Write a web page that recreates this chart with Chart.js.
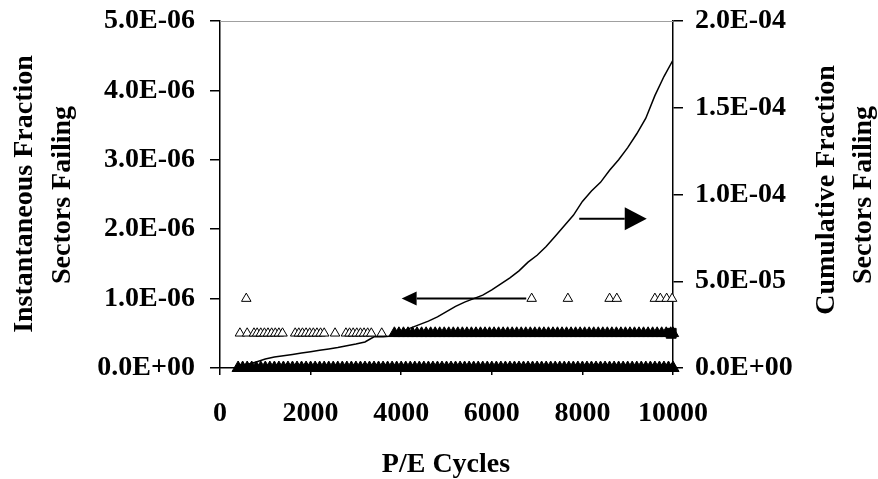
<!DOCTYPE html>
<html>
<head>
<meta charset="utf-8">
<script src="https://cdn.jsdelivr.net/npm/chart.js@4"></script>
<style>
  html, body { margin: 0; padding: 0; background: #fff; }
  #wrap { width: 878px; height: 479px; }
</style>
</head>
<body>
<div id="wrap"><canvas id="failChart" width="878" height="479"></canvas></div>
<script>
// instantaneous fraction, row at 0
var zeroRowX = [400, 500, 600, 700, 800, 900, 1000, 1100, 1200, 1300, 1400, 1500, 1600, 1700, 1800, 1900,
  2000, 2100, 2200, 2300, 2400, 2500, 2600, 2700, 2800, 2900, 3000, 3100, 3200, 3300, 3400, 3500,
  3600, 3700, 3800, 3900, 4000, 4100, 4200, 4300, 4400, 4500, 4600, 4700, 4800, 4900, 5000, 5100,
  5200, 5300, 5400, 5500, 5600, 5700, 5800, 5900, 6000, 6100, 6200, 6300, 6400, 6500, 6600, 6700,
  6800, 6900, 7000, 7100, 7200, 7300, 7400, 7500, 7600, 7700, 7800, 7900, 8000, 8100, 8200, 8300,
  8400, 8500, 8600, 8700, 8800, 8900, 9000, 9100, 9200, 9300, 9400, 9500, 9600, 9700, 9800, 9900, 10000];
// row at 5.0E-07, sparse part
var halfSparseX = [440, 600, 750, 820, 900, 980, 1060, 1140, 1220, 1300, 1380,
  1660, 1740, 1820, 1900, 1980, 2060, 2140, 2220, 2300, 2540,
  2780, 2860, 2940, 3020, 3100, 3180, 3260, 3340, 3570];
// row at 5.0E-07, dense part
var halfDenseX = [3850, 3950, 4050, 4150, 4250, 4350, 4450, 4550, 4650, 4750, 4850, 4950, 5050, 5150,
  5250, 5350, 5450, 5550, 5650, 5750, 5850, 5950, 6050, 6150, 6250, 6350, 6450, 6550, 6650, 6750,
  6850, 6950, 7050, 7150, 7250, 7350, 7450, 7550, 7650, 7750, 7850, 7950, 8050, 8150, 8250, 8350,
  8450, 8550, 8650, 8750, 8850, 8950, 9050, 9150, 9250, 9350, 9450, 9550, 9650, 9750, 9850, 9950, 10000];
// row at 1.0E-06
var fullRowX = [580, 6880, 7680, 8600, 8760, 9600, 9720, 9860, 9980];
var endBlockX = [9960];

// cumulative fraction (right axis)
var cumX = [400, 600, 800, 1000, 1200, 1400, 1600, 1800, 2000, 2200, 2400, 2600, 2800, 3000, 3200, 3400,
  3600, 3800, 4000, 4200, 4400, 4600, 4800, 5000, 5200, 5400, 5600, 5800, 6000, 6200, 6400, 6600,
  6800, 7000, 7200, 7400, 7600, 7800, 8000, 8200, 8400, 8600, 8800, 9000, 9200, 9400, 9600, 9800, 10000];
var cumY = [1.7e-6, 2.0e-6, 3.5e-6, 5.2e-6, 6.3e-6, 7.0e-6, 7.8e-6, 8.6e-6, 9.4e-6, 1.02e-5, 1.1e-5, 1.18e-5,
  1.28e-5, 1.38e-5, 1.5e-5, 1.8e-5, 1.8e-5, 1.85e-5, 2.1e-5, 2.3e-5, 2.5e-5, 2.7e-5, 2.95e-5, 3.25e-5,
  3.55e-5, 3.8e-5, 4.0e-5, 4.2e-5, 4.5e-5, 4.85e-5, 5.2e-5, 5.6e-5, 6.1e-5, 6.5e-5, 7.0e-5, 7.6e-5,
  8.2e-5, 8.8e-5, 9.6e-5, 1.02e-4, 1.07e-4, 1.14e-4, 1.2e-4, 1.27e-4, 1.35e-4, 1.44e-4, 1.57e-4, 1.68e-4, 1.775e-4];

var xTicks = [0, 2000, 4000, 6000, 8000, 10000];
var leftTicks = [0, 1e-6, 2e-6, 3e-6, 4e-6, 5e-6];
var rightTicks = [0, 5e-5, 1e-4, 1.5e-4, 2e-4];

// arrows pointing to the axis each series belongs to
var arrowLeft = { from: 6760, to: 4010, at: 1e-6, axis: 'y', head: 15, half: 7 };
var arrowRight = { from: 7930, to: 9420, at: 8.6e-5, axis: 'y1', head: 22, half: 11.5 };

var FONT = '"Liberation Serif", "Times New Roman", serif';

function sci(v) {
  if (Math.abs(v) < 1e-20) return '0.0E+00';
  var parts = v.toExponential(1).split('e');
  var e = parseInt(parts[1], 10);
  var d = Math.abs(e);
  return parts[0] + 'E' + (e < 0 ? '-' : '+') + (d < 10 ? '0' + d : d);
}

function pts(xs, y) {
  return xs.map(function(x) { return { x: x, y: y }; });
}

var extras = {
  id: 'extras',
  beforeDatasetsDraw: function(chart) {
    var ctx = chart.ctx, a = chart.chartArea;
    ctx.save();
    ctx.strokeStyle = '#a0a0a0';
    ctx.lineWidth = 1;
    ctx.beginPath();
    ctx.moveTo(a.left, a.top + 0.5);
    ctx.lineTo(a.right, a.top + 0.5);
    ctx.stroke();
    ctx.restore();
  },
  afterDatasetsDraw: function(chart) {
    var ctx = chart.ctx;
    [arrowLeft, arrowRight].forEach(function(ar) {
      var x0 = chart.scales.x.getPixelForValue(ar.from);
      var x1 = chart.scales.x.getPixelForValue(ar.to);
      var y = chart.scales[ar.axis].getPixelForValue(ar.at);
      var dir = x1 > x0 ? 1 : -1;
      ctx.save();
      ctx.strokeStyle = '#000';
      ctx.fillStyle = '#000';
      ctx.lineWidth = 2;
      ctx.beginPath();
      ctx.moveTo(x0, y);
      ctx.lineTo(x1 - dir * ar.head, y);
      ctx.stroke();
      ctx.beginPath();
      ctx.moveTo(x1, y);
      ctx.lineTo(x1 - dir * ar.head, y - ar.half);
      ctx.lineTo(x1 - dir * ar.head, y + ar.half);
      ctx.closePath();
      ctx.fill();
      ctx.restore();
    });
  },
  afterDraw: function(chart) {
    var ctx = chart.ctx;
    ctx.save();
    ctx.fillStyle = '#000';
    ctx.font = 'bold 28px ' + FONT;
    ctx.textAlign = 'center';
    ctx.textBaseline = 'middle';
    function vtext(t, x, y) {
      ctx.save();
      ctx.translate(x, y);
      ctx.rotate(-Math.PI / 2);
      ctx.fillText(t, 0, 0);
      ctx.restore();
    }
    vtext('Instantaneous Fraction', 25, 194);
    vtext('Sectors Failing', 63, 195);
    vtext('Cumulative Fraction', 827, 190);
    vtext('Sectors Failing', 864, 195);
    ctx.fillText('P/E Cycles', 446, 465);
    ctx.restore();
  }
};

function fitY(w) {
  return function(s) {
    s.width = w;
    s.paddingTop = 0;
    s.paddingBottom = 0;
  };
}

document.addEventListener('DOMContentLoaded', function() {
  var ctx = document.getElementById('failChart').getContext('2d');
  var tri = {
    pointStyle: 'triangle',
    borderColor: '#000',
    borderWidth: 1,
    showLine: false,
    clip: false,
    yAxisID: 'y'
  };
  new Chart(ctx, {
    type: 'scatter',
    data: {
      datasets: [
        {
          label: 'Cumulative',
          data: cumX.map(function(x, i) { return { x: x, y: cumY[i] }; }),
          showLine: true,
          borderColor: '#000',
          borderWidth: 1.5,
          pointRadius: 0,
          tension: 0,
          fill: false,
          yAxisID: 'y1'
        },
        Object.assign({ data: pts(fullRowX, 1e-6), backgroundColor: '#fff', pointRadius: 5.5 }, tri),
        Object.assign({ data: pts(halfSparseX, 5e-7), backgroundColor: '#fff', pointRadius: 5.5 }, tri),
        Object.assign({ data: pts(halfDenseX, 5e-7), backgroundColor: '#000', pointRadius: 6.5 }, tri),
        Object.assign({}, tri, { data: pts(endBlockX, 5e-7), pointStyle: 'rect', backgroundColor: '#000', pointRadius: 7 }),
        Object.assign({ data: pts(zeroRowX, 0), backgroundColor: '#000', pointRadius: 7 }, tri)
      ]
    },
    options: {
      responsive: false,
      animation: false,
      layout: { padding: { top: 21, left: 0, right: 0, bottom: 0 } },
      plugins: {
        legend: { display: false },
        tooltip: { enabled: false }
      },
      scales: {
        x: {
          type: 'linear',
          min: 0,
          max: 10000,
          afterFit: function(s) { s.height = 111; s.paddingLeft = 0; s.paddingRight = 0; },
          afterBuildTicks: function(s) { s.ticks = xTicks.map(function(v) { return { value: v }; }); },
          grid: { drawOnChartArea: false, color: '#000', lineWidth: 1.5, tickLength: 7 },
          border: { color: '#000', width: 1.5 },
          ticks: { color: '#000', padding: 22, font: { family: FONT, size: 28, weight: 'bold' },
            callback: function(v) { return String(v); } }
        },
        y: {
          position: 'left',
          min: 0,
          max: 5e-6,
          afterFit: fitY(220),
          afterBuildTicks: function(s) { s.ticks = leftTicks.map(function(v) { return { value: v }; }); },
          grid: { drawOnChartArea: false, color: '#000', lineWidth: 1.5, tickLength: 10 },
          border: { color: '#000', width: 1.5 },
          ticks: { color: '#000', padding: 15, font: { family: FONT, size: 28, weight: 'bold' }, callback: sci }
        },
        y1: {
          position: 'right',
          min: 0,
          max: 2e-4,
          afterFit: fitY(205),
          afterBuildTicks: function(s) { s.ticks = rightTicks.map(function(v) { return { value: v }; }); },
          grid: { drawOnChartArea: false, color: '#000', lineWidth: 1.5, tickLength: 10 },
          border: { color: '#000', width: 1.5 },
          ticks: { color: '#000', padding: 12, font: { family: FONT, size: 28, weight: 'bold' }, callback: sci }
        }
      }
    },
    plugins: [extras]
  });
});
</script>
</body>
</html>
